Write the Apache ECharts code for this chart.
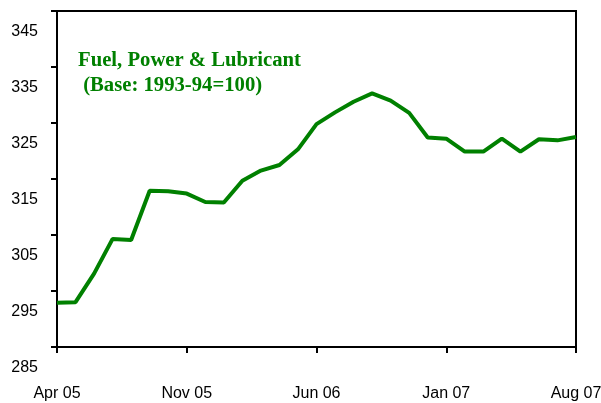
<!DOCTYPE html>
<html>
<head>
<meta charset="utf-8">
<script src="https://cdn.jsdelivr.net/npm/echarts@6/dist/echarts.min.js"></script>
<style>
    html, body { margin: 0; padding: 0; background: #fff; }
    #chart { width: 601px; height: 403px; }
</style>
</head>
<body>
<div id="chart"></div>
<script>
// months Apr 05 .. Aug 07
const months = [
    'Apr 05', 'May 05', 'Jun 05', 'Jul 05', 'Aug 05', 'Sep 05', 'Oct 05',
    'Nov 05', 'Dec 05', 'Jan 06', 'Feb 06', 'Mar 06', 'Apr 06', 'May 06',
    'Jun 06', 'Jul 06', 'Aug 06', 'Sep 06', 'Oct 06', 'Nov 06', 'Dec 06',
    'Jan 07', 'Feb 07', 'Mar 07', 'Apr 07', 'May 07', 'Jun 07', 'Jul 07',
    'Aug 07'
]
// index values
const fuelIndex = [
    292.9, 293.0, 298.1, 304.3, 304.1, 312.9, 312.8,
    312.4, 310.9, 310.8, 314.7, 316.5, 317.5, 320.3,
    324.8, 326.9, 328.8, 330.3, 329.0, 326.8, 322.4,
    322.2, 319.9, 319.9, 322.2, 319.9, 322.1, 321.9,
    322.5
]
const yMin = 285
const yMax = 345
const yStep = 10

const green = '#008000'

const myEchart = echarts.init(document.getElementById('chart'))

myEchart.setOption({
    animation: false,
    title: {
        text: 'Fuel, Power & Lubricant\n (Base: 1993-94=100)',
        left: 78,
        top: 48,
        padding: 0,
        textStyle: {
            color: green,
            fontFamily: 'Liberation Serif',
            fontWeight: 'bold',
            fontSize: 20.7,
            lineHeight: 25
        }
    },
    grid: {
        left: 57,
        right: 25,
        top: 11,
        bottom: 56,
        outerBoundsMode: 'none',
        containLabel: false,
        show: true,
        borderColor: '#000',
        borderWidth: 2
    },
    xAxis: {
        type: 'category',
        boundaryGap: false,
        data: months,
        axisLine: { lineStyle: { color: '#000', width: 2 } },
        axisTick: {
            interval: 6,
            length: 6,
            lineStyle: { color: '#000', width: 2 }
        },
        axisLabel: {
            interval: 6,
            margin: 39,
            color: '#000',
            fontFamily: 'Liberation Sans',
            fontSize: 16
        },
        splitLine: { show: false }
    },
    yAxis: {
        type: 'value',
        min: yMin,
        max: yMax,
        interval: yStep,
        axisLine: { show: true, lineStyle: { color: '#000', width: 2 } },
        axisTick: {
            show: true,
            length: 6,
            lineStyle: { color: '#000', width: 2 }
        },
        axisLabel: {
            margin: 19,
            color: '#000',
            fontFamily: 'Liberation Sans',
            fontSize: 16,
            verticalAlign: 'top',
            padding: [13, 0, 0, 0]
        },
        splitLine: { show: false }
    },
    series: [
        {
            name: 'Fuel, Power & Lubricant',
            type: 'line',
            data: fuelIndex,
            showSymbol: false,
            lineStyle: { color: green, width: 4 },
            itemStyle: { color: green }
        }
    ]
})
</script>
</body>
</html>
